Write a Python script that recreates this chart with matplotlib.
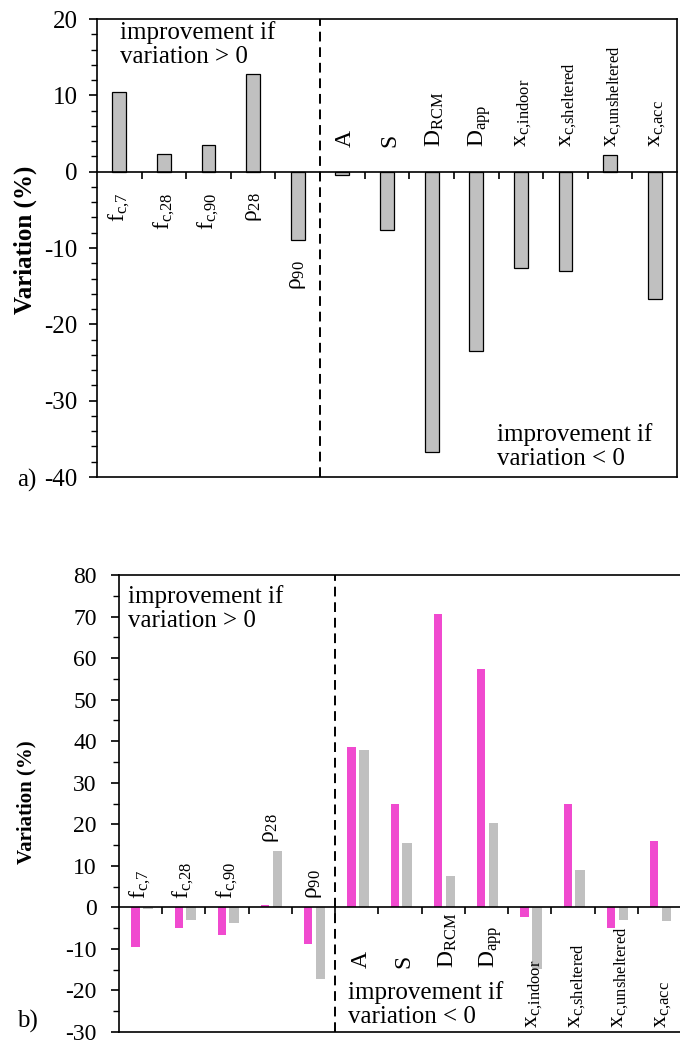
import matplotlib
matplotlib.use('Agg')
import matplotlib.pyplot as plt
import numpy as np

plt.rcParams['font.family'] = 'Liberation Serif'
plt.rcParams['mathtext.fontset'] = 'custom'
plt.rcParams['mathtext.rm'] = 'Liberation Serif'
plt.rcParams['mathtext.it'] = 'Liberation Serif'
plt.rcParams['mathtext.default'] = 'regular'
plt.rcParams['axes.unicode_minus'] = False

# categories (first 5 are "improvement if > 0", the rest "< 0")
names = [r'$f_{c{,}7}$', r'$f_{c{,}28}$', r'$f_{c{,}90}$', r'$ρ_{28}$', r'$ρ_{90}$',
         'A', 'S', r'$D_{RCM}$', r'$D_{app}$', r'$x_{c{,}indoor}$',
         r'$x_{c{,}sheltered}$', r'$x_{c{,}unsheltered}$', r'$x_{c{,}acc}$']
n_left = 5

# panel a) variation (%)
var_a = [10.4, 2.3, 3.5, 12.8, -8.9, -0.5, -7.6, -36.7, -23.5, -12.6, -13.0, 2.2, -16.7]

# panel b) two series
var_b_pink = [-9.6, -5.0, -6.7, 0.6, -8.8, 38.5, 25.0, 70.5, 57.4, -2.2, 25.0, -5.0, 16.0]
var_b_grey = [-0.4, -3.0, -3.7, 13.6, -17.2, 37.8, 15.6, 7.6, 20.4, -14.8, 8.9, -3.1, -3.3]

pink = '#F04ACF'
grey = '#C0C0C0'

fig = plt.figure(figsize=(6.8, 10.5), dpi=100)
ax1 = fig.add_axes([97/680, 1-477/1050, 580/680, 458/1050])
ax2 = fig.add_axes([119/680, 1-1032/1050, 562/680, 457/1050])

x = np.arange(len(names))


def style_axis(ax, ylo, yhi, minor, pad):
    ax.set_xlim(-0.5, len(names) - 0.5)
    ax.set_ylim(ylo, yhi)
    ax.spines['bottom'].set_position(('data', 0))
    for s in ax.spines.values():
        s.set_linewidth(1.2)
    ax.axhline(ylo, color='black', lw=1.2, clip_on=False, zorder=3)
    ax.set_xticks(x[:-1] + 0.5, labels=[])
    ax.set_yticks(np.arange(ylo, yhi + 1, 10))
    ax.set_yticks(np.arange(ylo, yhi + 0.1, minor), minor=True)
    ax.tick_params(axis='x', direction='out', length=5, width=1.2)
    ax.tick_params(axis='y', which='major', direction='out', length=6, width=1.2,
                   pad=pad)
    ax.tick_params(axis='y', which='minor', direction='out', length=4, width=1.0)
    ax.axvline(n_left - 0.5, color='black', lw=1.4, ls=(0, (5, 3)), zorder=1)


# ---- panel a
ax1.bar(x, var_a, width=0.31, color=grey, edgecolor='black', linewidth=0.9, zorder=2)
style_axis(ax1, -40, 20, 2, 8)
for lab in ax1.get_yticklabels():
    lab.set_fontsize(18)

for i, name in enumerate(names):
    if i < n_left:
        ax1.annotate(name, (i, min(0, var_a[i])), xytext=(0, -15),
                     textcoords='offset points', rotation=90, ha='center',
                     va='top', fontsize=17)
    else:
        ax1.annotate(name, (i + 0.07, 3.2), rotation=90, ha='center',
                     va='bottom', fontsize=17)

ax1.text(0.04, 0.995, 'improvement if\nvariation > 0', transform=ax1.transAxes,
         ha='left', va='top', fontsize=18, linespacing=1.12)
ax1.text(0.69, 0.015, 'improvement if\nvariation < 0', transform=ax1.transAxes,
         ha='left', va='bottom', fontsize=18, linespacing=1.12)
ax1.set_ylabel('Variation (%)', fontweight='bold', fontsize=18)
ax1.yaxis.set_label_coords(-0.103, 0.517)
fig.text(17/680, 1 - 487/1050, 'a)', fontsize=18, va='baseline')

# ---- panel b
ax2.bar(x - 0.12, var_b_pink, width=0.19, color=pink, zorder=2)
ax2.bar(x + 0.165, var_b_grey, width=0.22, color=grey, zorder=2)
style_axis(ax2, -30, 80, 5, 10)
for lab in ax2.get_yticklabels():
    lab.set_fontsize(17)

for i, name in enumerate(names):
    if i < n_left:
        top = max(0, var_b_pink[i], var_b_grey[i])
        ax2.annotate(name, (i, top), xytext=(0, 6), textcoords='offset points',
                     rotation=90, ha='center', va='bottom', fontsize=17)
    else:
        ylab = -14.7 if i < 9 else -29.0
        ax2.annotate(name, (i + 0.1, ylab), rotation=90, ha='center',
                     va='bottom', fontsize=17)

ax2.text(0.016, 0.978, 'improvement if\nvariation > 0', transform=ax2.transAxes,
         ha='left', va='top', fontsize=18, linespacing=1.12)
ax2.text(0.407, 0.009, 'improvement if\nvariation < 0', transform=ax2.transAxes,
         ha='left', va='bottom', fontsize=18, linespacing=1.12)
ax2.set_ylabel('Variation (%)', fontweight='bold', fontsize=15)
ax2.yaxis.set_label_coords(-0.146, 0.503)
fig.text(17/680, 1 - 1028/1050, 'b)', fontsize=18, va='baseline')

fig.savefig('out.png', dpi=100)
